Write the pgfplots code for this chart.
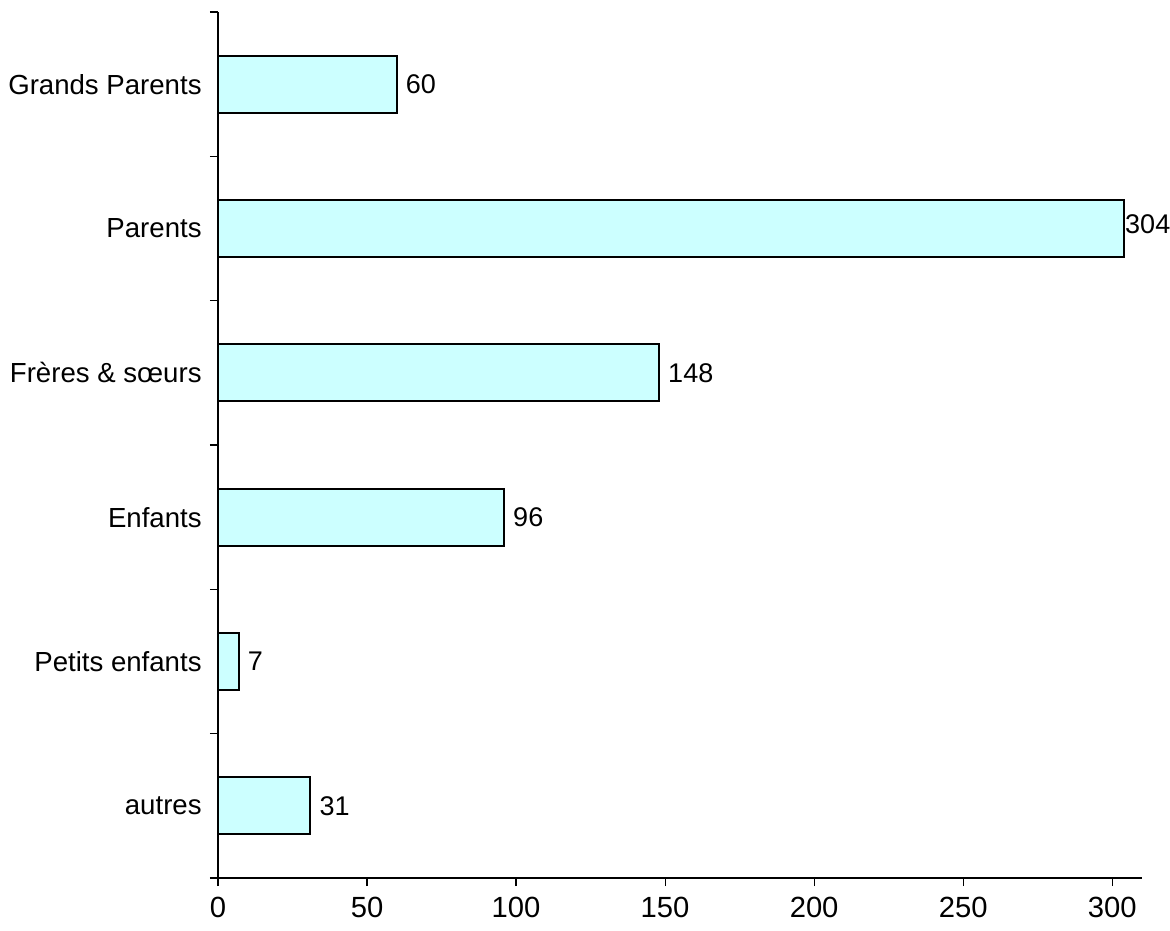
\documentclass[border=0pt]{standalone}
\usepackage{pgfplots}
\pgfplotsset{compat=1.18}
\usepackage{pgfplotstable}
\usepackage{fontspec}
\setmainfont{Liberation Sans}
\definecolor{barfill}{HTML}{CCFFFF}
\pgfplotstableread{
y x
0 31
1 7
2 96
3 148
5 60
}\datatable
\pgfplotstableread{
y x
4 304
}\datatableb
\begin{document}
\fontsize{13.5}{16}\selectfont
\begin{tikzpicture}
\begin{axis}[
  at={(0,0)}, anchor=south west,
  scale only axis,
  width=462pt, height=433pt,
  xmin=0, xmax=310,
  ymin=-0.5, ymax=5.5,
  axis x line*=bottom,
  axis y line*=left,
  axis line style={line width=0.6pt, -},
  xtick={0,50,...,300},
  minor xtick={0,50,...,300},
  ytick={0,...,5},
  yticklabels={autres,Petits enfants,Enfants,Frères \& sœurs,Parents,Grands Parents},
  minor ytick={-0.5,0.5,...,5.5},
  tick align=outside,
  major tick length=0pt,
  minor tick length=4pt,
  tick style={line width=0.6pt, black},
  xticklabel style={inner sep=0pt, yshift=-9.5pt, font=\fontsize{14.6}{17}\selectfont},
  yticklabel style={inner sep=0pt, xshift=-8pt, font=\fontsize{13.8}{16}\selectfont},
  /pgf/number format/assume math mode=true,
  xbar, bar width=28.5pt, bar shift=0pt,
  nodes near coords,
  every node near coord/.append style={anchor=west, inner sep=0pt, font=\fontsize{13.5}{16}\selectfont, black},
  clip=false,
]
\addplot[draw=black, line width=1.1pt, fill=barfill,
  every node near coord/.append style={xshift=4pt}] table[x=x, y=y] {\datatable};
\addplot[draw=black, line width=1.1pt, fill=barfill,
  every node near coord/.append style={xshift=0pt, yshift=2pt}] table[x=x, y=y] {\datatableb};
\end{axis}
\pgfresetboundingbox
\path (-109pt,-26pt) rectangle (476pt,439pt);
\end{tikzpicture}
\end{document}
